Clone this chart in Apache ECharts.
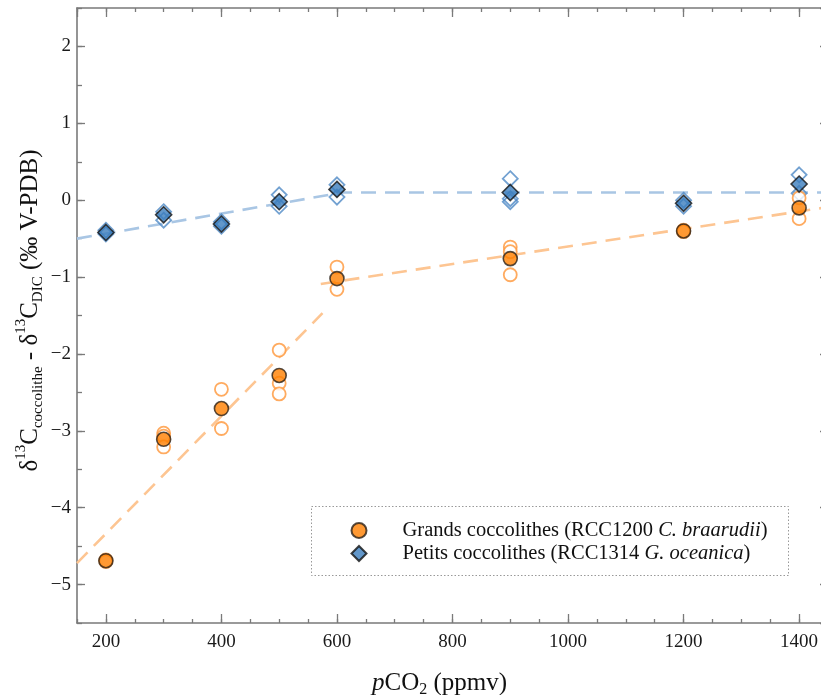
<!DOCTYPE html>
<html>
<head>
<meta charset="utf-8">
<script src="https://cdn.jsdelivr.net/npm/echarts@6/dist/echarts.min.js"></script>
<style>html,body{margin:0;padding:0;background:#fff;overflow:hidden}#c{width:821px;height:695px}</style>
</head>
<body>
<div id="c"></div>
<script>
// ---- data ----
var pco2Levels = [200, 300, 400, 500, 600, 900, 1200, 1400];
var grandsMean = [-4.69, -3.11, -2.71, -2.28, -1.02, -0.76, -0.40, -0.10];
var petitsMean = [-0.42, -0.19, -0.31, -0.02, 0.14, 0.10, -0.04, 0.21];

var grandsRepX = [200, 200, 300, 300, 300, 400, 400, 500, 500, 500, 600, 600, 900, 900, 900, 1200, 1200, 1400, 1400];
var grandsRepY = [-4.68, -4.70, -3.03, -3.07, -3.21, -2.46, -2.97, -1.95, -2.38, -2.52, -0.87, -1.16, -0.61, -0.67, -0.97, -0.39, -0.41, 0.03, -0.24];

var petitsRepX = [200, 200, 300, 300, 400, 400, 500, 500, 600, 600, 900, 900, 900, 1200, 1200, 1400, 1400];
var petitsRepY = [-0.39, -0.44, -0.15, -0.26, -0.28, -0.34, 0.07, -0.08, 0.20, 0.04, 0.28, 0.02, -0.02, 0.00, -0.08, 0.33, 0.09];

var grandsFitLowX = [150, 575];
var grandsFitLowY = [-4.72, -1.47];
var grandsFitHighX = [572, 1450];
var grandsFitHighY = [-1.09, -0.09];
var petitsFitX = [150, 610, 1450];
var petitsFitY = [-0.50, 0.10, 0.10];

var xMin = 150, xMax = 1450, yMin = -5.5, yMax = 2.5;

function zip(a, b) { return a.map(function (v, i) { return [v, b[i]]; }); }

var FONT = '"Liberation Serif", "Times New Roman", serif';
var AX = '#7a7a7a';

function xAxisDef(pos, major, showLine) {
  return {
    type: 'value', position: pos, min: xMin, max: xMax,
    interval: major ? undefined : 50,
    minInterval: major ? 200 : undefined, maxInterval: major ? 200 : undefined,
    splitNumber: major ? 6 : undefined,
    axisLine: { show: showLine, onZero: false, lineStyle: { color: AX, width: 1.6 } },
    axisTick: { show: true, inside: true, length: major ? 9 : 4, lineStyle: { color: AX, width: 1.3 } },
    axisLabel: (major && pos === 'bottom') ? {
      show: true, margin: 10, color: '#1a1a1a', fontFamily: FONT, fontSize: 19,
      showMinLabel: false, showMaxLabel: false,
      formatter: function (v) { return (v % 200 === 0) ? String(v) : ''; }
    } : { show: false },
    splitLine: { show: false }
  };
}
function yAxisDef(pos, major, showLine) {
  return {
    type: 'value', position: pos, min: yMin, max: yMax,
    interval: major ? undefined : 0.5,
    minInterval: major ? 1 : undefined, maxInterval: major ? 1 : undefined,
    splitNumber: major ? 8 : undefined,
    axisLine: { show: showLine, onZero: false, lineStyle: { color: AX, width: 1.6 } },
    axisTick: { show: true, inside: true, length: major ? 8 : 5, lineStyle: { color: AX, width: 1.3 } },
    axisLabel: (major && pos === 'left') ? {
      show: true, margin: 6, color: '#1a1a1a', fontFamily: FONT, fontSize: 19,
      showMinLabel: false, showMaxLabel: false,
      formatter: function (v) {
        if (Math.abs(v - Math.round(v)) > 1e-6) return '';
        return String(Math.round(v)).replace('-', '\u2212');
      }
    } : { show: false },
    splitLine: { show: false }
  };
}

var xAxes = [xAxisDef('bottom', false, true), xAxisDef('bottom', true, false), xAxisDef('top', false, true), xAxisDef('top', true, false)];
var yAxes = [yAxisDef('left', false, true), yAxisDef('left', true, false), yAxisDef('right', false, true), yAxisDef('right', true, false)];

xAxes[0].name = '{i|p}{n|CO}{b|2}{n| (ppmv)}';
xAxes[0].nameLocation = 'middle';
xAxes[0].nameGap = 45;
xAxes[0].nameTextStyle = {
  padding: [0, 26, 0, 0],
  rich: {
    i: { fontFamily: FONT, fontSize: 25, fontStyle: 'italic', color: '#111', lineHeight: 30 },
    n: { fontFamily: FONT, fontSize: 25, color: '#111', lineHeight: 30 },
    b: { fontFamily: FONT, fontSize: 16, color: '#111', lineHeight: 30, verticalAlign: 'bottom' }
  }
};

yAxes[0].name = '{n|\u03b4}{p|13}{n|C}{b|coccolithe}{n| - \u03b4}{p|13}{n|C}{b|DIC}{n| (\u2030 V-PDB)}';
yAxes[0].nameLocation = 'middle';
yAxes[0].nameRotate = 90;
yAxes[0].nameGap = 31;
yAxes[0].nameTextStyle = {
  padding: [0, 0, 0, 10],
  rich: {
    n: { fontFamily: FONT, fontSize: 25, color: '#111', lineHeight: 32 },
    p: { fontFamily: FONT, fontSize: 15, color: '#111', lineHeight: 22, verticalAlign: 'top' },
    b: { fontFamily: FONT, fontSize: 15, color: '#111', lineHeight: 18, verticalAlign: 'bottom' }
  }
};

var ORANGE_LINE = '#fdc592';
var BLUE_LINE = '#a9c6e4';

var option = {
  animation: false,
  backgroundColor: '#fff',
  grid: { left: 77, top: 8, right: -7, bottom: 72, containLabel: false, outerBoundsMode: 'none' },
  xAxis: xAxes,
  yAxis: yAxes,
  legend: {
    data: ['Grands coccolithes', 'Petits coccolithes'],
    orient: 'vertical', left: 350.5, top: 520, padding: 0,
    itemWidth: 15, itemHeight: 15, itemGap: 2,
    textStyle: {
      fontFamily: FONT, fontSize: 20.5, color: '#111', lineHeight: 20,
      rich: {
        s: { width: 31, lineHeight: 20 },
        n: { fontFamily: FONT, fontSize: 20.5, color: '#111', lineHeight: 20 },
        i: { fontFamily: FONT, fontSize: 20.5, color: '#111', fontStyle: 'italic', lineHeight: 20 }
      }
    },
    formatter: function (name) {
      if (name === 'Grands coccolithes') return '{s|}{n|Grands coccolithes (RCC1200 }{i|C. braarudii}{n|)}';
      return '{s|}{n|Petits coccolithes (RCC1314 }{i|G. oceanica}{n|)}';
    }
  },
  graphic: [{
    type: 'rect', shape: { x: 311.5, y: 506.5, width: 477, height: 69 },
    style: { fill: 'none', stroke: '#999', lineWidth: 1, lineDash: [1.5, 2] }, z: 10
  }],
  series: [
    { type: 'line', name: 'fitG1', data: zip(grandsFitLowX, grandsFitLowY), showSymbol: false, symbol: 'none',
      lineStyle: { color: ORANGE_LINE, width: 2.6, type: [15, 9] }, z: 1 },
    { type: 'line', name: 'fitG2', data: zip(grandsFitHighX, grandsFitHighY), showSymbol: false, symbol: 'none',
      lineStyle: { color: ORANGE_LINE, width: 2.6, type: [15, 9] }, z: 1 },
    { type: 'line', name: 'fitP', data: zip(petitsFitX, petitsFitY), showSymbol: false, symbol: 'none',
      lineStyle: { color: BLUE_LINE, width: 2.6, type: [15, 9] }, z: 1 },
    { type: 'scatter', name: 'repP', data: zip(petitsRepX, petitsRepY), symbol: 'diamond', symbolSize: 15,
      itemStyle: { color: 'rgba(255,255,255,0)', borderColor: '#4f8ac6', borderWidth: 1.8 }, z: 2 },
    { type: 'scatter', name: 'repG', data: zip(grandsRepX, grandsRepY), symbol: 'circle', symbolSize: 13,
      itemStyle: { color: '#fff', borderColor: '#ff9638', borderWidth: 1.8 }, z: 3 },
    { type: 'scatter', name: 'Grands coccolithes', data: zip(pco2Levels, grandsMean), symbol: 'circle', symbolSize: 14,
      itemStyle: { color: '#ff7f00', borderColor: '#2b2118', borderWidth: 1.6 }, z: 4 },
    { type: 'scatter', name: 'Petits coccolithes', data: zip(pco2Levels, petitsMean), symbol: 'diamond', symbolSize: 16,
      itemStyle: { color: '#3b7dbd', borderColor: '#111', borderWidth: 1.6 }, z: 5 }
  ]
};

var chart = echarts.init(document.getElementById('c'), null, { renderer: 'canvas' });
chart.setOption(option);
</script>
</body>
</html>
